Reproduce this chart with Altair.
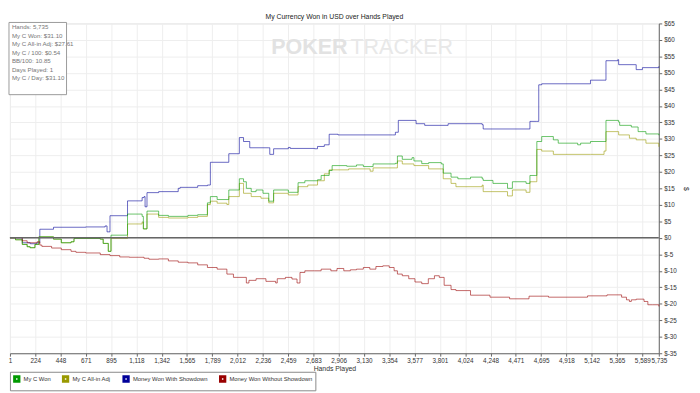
import altair as alt
import pandas as pd

# ---------------- data ----------------
blue_h = [1, 50, 110, 180, 240, 265, 386, 670, 842, 859, 885, 1040, 1169, 1186, 1195, 1212, 1315, 1488, 1505,
          1660, 1746, 1772, 1935, 2028, 2065, 2113, 2120, 2288, 2297, 2331, 2461, 2478, 2693, 2719, 2779, 2822,
          2900, 3382, 3407, 3433, 3580, 3590, 3666, 3873, 4174, 4183, 4588, 4596, 4657, 4674, 4700, 5131, 5251,
          5268, 5372, 5380, 5526, 5535, 5578, 5590, 5735]
blue_v = [0, 0, -1.5, -1.8, -1.5, 2.6, 3.2, 3.3, 3.6, 1.8, 6.7, 11.2, 12.2, 12.5, 9.4, 13.7, 14, 15, 15.3,
          15.8, 16, 22.9, 25.5, 30.4, 29.2, 29.2, 27.3, 27.3, 25.3, 27, 27.4, 27.1, 27, 27.7, 28.2, 31.4,
          31.2, 31.2, 32, 35.6, 35.6, 34.6, 34.1, 34.6, 34.3, 33, 33, 35.3, 35.3, 46.4, 46.7, 47.8, 47.8,
          53.7, 54, 52.5, 52.5, 51, 51, 51.6, 52]

green_h = [1, 50, 110, 153, 179, 222, 257, 386, 455, 541, 567, 799, 825, 870, 894, 1040, 1169, 1180, 1212,
           1315, 1401, 1574, 1660, 1746, 1772, 1832, 1935, 2028, 2065, 2090, 2133, 2176, 2237, 2288, 2331, 2461,
           2547, 2607, 2719, 2751, 2822, 2848, 2977, 3063, 3124, 3210, 3407, 3425, 3468, 3554, 3571, 3640, 3701,
           3813, 3830, 3899, 3959, 4071, 4174, 4183, 4269, 4398, 4441, 4562, 4596, 4648, 4657, 4700, 4803, 4846,
           5018, 5044, 5131, 5251, 5268, 5380, 5389, 5492, 5552, 5621, 5735]
green_v = [0, -0.6, -2, -2.7, -3, -2, 0.3, -0.4, -1.5, -1.2, -0.2, -0.4, -1.7, -4.1, 0.8, 7.2, 6.5, 2.7, 8.1,
           6.8, 6.5, 6.8, 7, 10.6, 12.5, 11.6, 14.5, 17.9, 17, 15, 14, 14.5, 13.5, 11.1, 14.5, 13.8,
           16.7, 17.3, 17.6, 18.9, 20.4, 21.9, 21.7, 22.1, 21.6, 22.4, 22.6, 24.8, 23.8, 24.3, 23.3, 22.5, 22.8,
           22.4, 19.6, 18.4, 17.9, 18.4, 17.9, 17.4, 16.5, 15, 17, 16.5, 18.9, 18.9, 29.2, 30.7, 29.7, 28.7,
           28.2, 28.7, 29.2, 29.2, 35.6, 35.1, 34.1, 33.6, 32.2, 31.5, 31.1]

olive_h = [1, 50, 110, 153, 179, 222, 257, 386, 455, 541, 567, 799, 825, 870, 894, 1040, 1169, 1180, 1212,
           1315, 1401, 1574, 1660, 1746, 1772, 1832, 1918, 1935, 2028, 2065, 2133, 2219, 2288, 2331, 2461,
           2547, 2633, 2719, 2779, 2822, 2994, 3184, 3210, 3407, 3425, 3468, 3571, 3701, 3813, 3830, 3899,
           3942, 4174, 4183, 4398, 4441, 4562, 4596, 4648, 4657, 4700, 4803, 5131, 5251, 5268, 5380, 5475,
           5535, 5621, 5735]
olive_v = [0, -0.6, -2, -2.7, -3, -2, 0.3, -0.4, -1.5, -1.2, -0.2, -0.4, -1.7, -4.1, -0.2, 4.2, 4.8, 2.7, 7.2,
           6.2, 6, 6.2, 6.5, 10.1, 11.1, 10.5, 10.1, 12.5, 16.5, 13.5, 12.5, 12, 10.6, 13.5, 13,
           15.5, 16, 17.3, 19.4, 20.6, 20.9, 20.2, 21.2, 21.2, 23.3, 22.4, 21.9, 20.9, 20.9, 17.9, 16.5,
           15.5, 16, 14, 12.7, 14.5, 13.8, 17, 17, 26.8, 26.3, 25.3, 25.3, 26.3, 32.2, 31.2, 30.2,
           29.7, 28.7, 27.6]

red_h = [1, 110, 153, 240, 265, 283, 369, 455, 541, 584, 670, 799, 885, 971, 1057, 1186, 1229, 1315, 1401,
         1488, 1574, 1660, 1746, 1832, 1918, 1976, 2090, 2113, 2176, 2263, 2349, 2363, 2435, 2493, 2538, 2564,
         2607, 2693, 2751, 2837, 2891, 2951, 3009, 3063, 3124, 3181, 3235, 3296, 3353, 3396, 3425, 3468, 3525,
         3580, 3640, 3698, 3752, 3795, 3838, 3899, 3942, 4071, 4243, 4416, 4588, 4760, 4932, 5105, 5277, 5406,
         5449, 5475, 5492, 5535, 5578, 5604, 5638, 5681, 5735]
red_v = [0, -0.9, -1.5, -1.2, -2.2, -2.6, -3.1, -3.6, -4.1, -4.4, -4.6, -5.1, -5.4, -5.8, -5.9, -6.2, -6.5, -6.4, -7,
         -7.4, -7.6, -8.2, -9, -9.5, -11, -12, -13.7, -12.9, -12.4, -13.2, -13.7, -12.4, -12, -12.5, -13.7, -10.5,
         -10, -10, -9.5, -10, -9.3, -10, -9.7, -9.5, -9, -9.5, -8.7, -8.5, -9, -10, -11, -11.5, -12.4,
         -13.4, -13.9, -12.4, -11.5, -12, -14.4, -15.7, -16, -17.4, -18, -18.5, -17.7, -18, -18, -17.6, -17.3, -18,
         -18.8, -19.3, -18.8, -18.6, -18.6, -19.3, -20.3, -20.3, -20.8]

series_names = ["My C Won", "My C All-in Adj", "Money Won With Showdown", "Money Won Without Showdown"]
series_colors = ["#009900", "#999900", "#000099", "#990000"]

x_ticks = [1, 224, 448, 671, 895, 1118, 1342, 1565, 1789, 2012, 2236, 2459, 2683, 2906, 3130, 3354,
           3577, 3801, 4024, 4248, 4471, 4695, 4918, 5142, 5365, 5589, 5735]
y_ticks = list(range(-35, 70, 5))

stats_lines = ["Hands: 5,735", "My C Won: $31.10", "My C All-in Adj: $27.61", "My C / 100: $0.54",
               "BB/100: 10.85", "Days Played: 1", "My C / Day: $31.10"]

title_text = "My Currency Won in USD over Hands Played"

# ---------------- build table ----------------
rows = []
for name, hs, vs in [(series_names[2], blue_h, blue_v), (series_names[1], olive_h, olive_v),
                     (series_names[0], green_h, green_v), (series_names[3], red_h, red_v)]:
    for h, v in zip(hs, vs):
        rows.append({"series": name, "hands": h, "value": v})
df = pd.DataFrame(rows)

FONT = "Liberation Sans"
W, H = 665, 338


def y_axis():
    return alt.Axis(orient="right", values=y_ticks, labelExpr="'$' + datum.value", title="$",
                    labelFontSize=6.5, titleFontSize=7, titleFontWeight="normal", tickSize=3,
                    labelPadding=2, titlePadding=6, labelColor="#333", titleColor="#333",
                    domainColor="#666", tickColor="#666", gridColor="#eeeeee",
                    labelOverlap=False, labelFlush=False)


y_scale = alt.Scale(domain=[-35, 65], nice=False)

x_enc = alt.X("hands:Q", scale=alt.Scale(domain=[1, 5735], nice=False, zero=False),
              axis=alt.Axis(values=x_ticks, format=",d", title="Hands Played", labelFontSize=6.5,
                            titleFontSize=7, titleFontWeight="normal", tickSize=3, labelPadding=1,
                            titlePadding=1, labelColor="#333", titleColor="#333", domainColor="#666",
                            tickColor="#666", gridColor="#eeeeee", labelFlush=False, labelOverlap=False))

lines = alt.Chart(df).mark_line(interpolate="step-after", strokeWidth=1, opacity=0.6).encode(
    x=x_enc, y=alt.Y("value:Q", scale=y_scale, axis=y_axis()),
    color=alt.Color("series:N", scale=alt.Scale(domain=series_names, range=series_colors),
                    legend=alt.Legend(title=None, orient="none", legendX=0, legendY=357,
                                      direction="horizontal", symbolType="square", symbolSize=20,
                                      symbolStrokeWidth=3, symbolOpacity=1, labelFontSize=6,
                                      labelColor="#333", fillColor="white", strokeColor="#888",
                                      padding=3, columnPadding=6, labelLimit=200, labelOffset=3)),
)

zero = alt.Chart(pd.DataFrame({"value": [0]})).mark_rule(color="#666", strokeWidth=1.5).encode(
    y=alt.Y("value:Q", scale=y_scale, axis=y_axis()))

wm1 = alt.Chart(pd.DataFrame({"t": ["POKER"]})).mark_text(
    font=FONT, fontSize=22, fontWeight="bold", color="#e2e2e2", align="right", baseline="middle"
).encode(x=alt.value(346), y=alt.value(24), text="t:N")
wm2 = alt.Chart(pd.DataFrame({"t": ["TRACKER"]})).mark_text(
    font=FONT, fontSize=22, color="#e8e8e8", align="left", baseline="middle"
).encode(x=alt.value(349), y=alt.value(24), text="t:N")

box = alt.Chart(pd.DataFrame({"a": [0]})).mark_rect(fill="white", stroke="#999", strokeWidth=1).encode(
    x=alt.value(-1), x2=alt.value(58), y=alt.value(-1), y2=alt.value(73))
stats = alt.Chart(pd.DataFrame({"t": ["\n".join(stats_lines)]})).mark_text(
    font=FONT, fontSize=6.3, color="#777", align="left", baseline="top", lineBreak="\n", lineHeight=8.7
).encode(x=alt.value(2), y=alt.value(1), text="t:N")

chart = alt.layer(wm1, wm2, lines, zero, box, stats).properties(
    width=W, height=H,
    title=alt.TitleParams(title_text, fontSize=7, fontWeight="normal", font=FONT, color="#222", offset=1),
    padding={"left": 0, "top": 0, "right": 2, "bottom": 0}
).configure_view(stroke="#999", strokeWidth=1.5).configure(font=FONT).configure_axis(gridWidth=1)

chart.save("out.html", embed_options={"renderer": "svg", "actions": False})
